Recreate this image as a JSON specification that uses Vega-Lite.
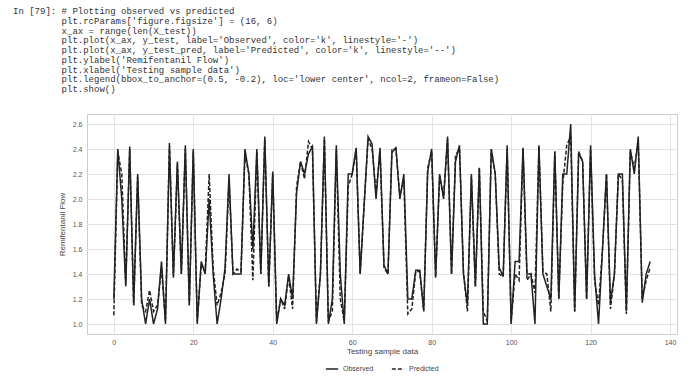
{
  "$schema": "https://vega.github.io/schema/vega-lite/v6.json",
  "autosize": {"type": "none"},
  "width": 590,
  "height": 220,
  "padding": {"left": 87, "top": 114, "right": 10, "bottom": 43},
  "background": "white",
  "title": {
    "text": [
      "In [79]: # Plotting observed vs predicted",
      "\u200b\u00a0\u00a0\u00a0\u00a0\u00a0\u00a0\u00a0\u00a0\u00a0plt.rcParams['figure.figsize'] = (16, 6)",
      "\u200b\u00a0\u00a0\u00a0\u00a0\u00a0\u00a0\u00a0\u00a0\u00a0x_ax = range(len(X_test))",
      "\u200b\u00a0\u00a0\u00a0\u00a0\u00a0\u00a0\u00a0\u00a0\u00a0plt.plot(x_ax, y_test, label='Observed', color='k', linestyle='-')",
      "\u200b\u00a0\u00a0\u00a0\u00a0\u00a0\u00a0\u00a0\u00a0\u00a0plt.plot(x_ax, y_test_pred, label='Predicted', color='k', linestyle='--')",
      "\u200b\u00a0\u00a0\u00a0\u00a0\u00a0\u00a0\u00a0\u00a0\u00a0plt.ylabel('Remifentanil Flow')",
      "\u200b\u00a0\u00a0\u00a0\u00a0\u00a0\u00a0\u00a0\u00a0\u00a0plt.xlabel('Testing sample data')",
      "\u200b\u00a0\u00a0\u00a0\u00a0\u00a0\u00a0\u00a0\u00a0\u00a0plt.legend(bbox_to_anchor=(0.5, -0.2), loc='lower center', ncol=2, frameon=False)",
      "\u200b\u00a0\u00a0\u00a0\u00a0\u00a0\u00a0\u00a0\u00a0\u00a0plt.show()"
    ],
    "anchor": "start",
    "frame": "group",
    "font": "Liberation Mono",
    "fontSize": 9,
    "fontWeight": "normal",
    "lineHeight": 9.7,
    "color": "#333333",
    "dx": -74,
    "offset": 20
  },
  "data": {
    "values": [
      {"i":0,"Observed":1.2,"Predicted":1.07},
      {"i":1,"Observed":2.4,"Predicted":2.38},
      {"i":2,"Observed":2.0,"Predicted":2.2},
      {"i":3,"Observed":1.3,"Predicted":1.32},
      {"i":4,"Observed":2.42,"Predicted":2.4},
      {"i":5,"Observed":1.15,"Predicted":1.15},
      {"i":6,"Observed":2.2,"Predicted":2.18},
      {"i":7,"Observed":1.2,"Predicted":1.15},
      {"i":8,"Observed":1.0,"Predicted":1.1},
      {"i":9,"Observed":1.2,"Predicted":1.27},
      {"i":10,"Observed":1.0,"Predicted":1.1},
      {"i":11,"Observed":1.12,"Predicted":1.15},
      {"i":12,"Observed":1.5,"Predicted":1.45},
      {"i":13,"Observed":1.0,"Predicted":1.02},
      {"i":14,"Observed":2.42,"Predicted":2.45},
      {"i":15,"Observed":1.38,"Predicted":1.37},
      {"i":16,"Observed":2.3,"Predicted":2.28},
      {"i":17,"Observed":1.4,"Predicted":1.4},
      {"i":18,"Observed":2.43,"Predicted":2.4},
      {"i":19,"Observed":1.15,"Predicted":1.15},
      {"i":20,"Observed":2.4,"Predicted":2.38},
      {"i":21,"Observed":1.0,"Predicted":1.02},
      {"i":22,"Observed":1.5,"Predicted":1.48},
      {"i":23,"Observed":1.4,"Predicted":1.42},
      {"i":24,"Observed":2.0,"Predicted":2.2},
      {"i":25,"Observed":1.4,"Predicted":1.45},
      {"i":26,"Observed":1.0,"Predicted":1.15},
      {"i":27,"Observed":1.2,"Predicted":1.25},
      {"i":28,"Observed":1.45,"Predicted":1.4},
      {"i":29,"Observed":2.2,"Predicted":2.15},
      {"i":30,"Observed":1.4,"Predicted":1.4},
      {"i":31,"Observed":1.4,"Predicted":1.44},
      {"i":32,"Observed":1.4,"Predicted":1.42},
      {"i":33,"Observed":2.4,"Predicted":2.35},
      {"i":34,"Observed":2.2,"Predicted":2.2},
      {"i":35,"Observed":1.6,"Predicted":1.35},
      {"i":36,"Observed":2.4,"Predicted":2.38},
      {"i":37,"Observed":1.4,"Predicted":1.4},
      {"i":38,"Observed":2.5,"Predicted":2.48},
      {"i":39,"Observed":1.3,"Predicted":1.3},
      {"i":40,"Observed":2.22,"Predicted":2.2},
      {"i":41,"Observed":1.0,"Predicted":1.02},
      {"i":42,"Observed":1.2,"Predicted":1.2},
      {"i":43,"Observed":1.15,"Predicted":1.12},
      {"i":44,"Observed":1.4,"Predicted":1.38},
      {"i":45,"Observed":1.2,"Predicted":1.12},
      {"i":46,"Observed":2.05,"Predicted":2.1},
      {"i":47,"Observed":2.3,"Predicted":2.3},
      {"i":48,"Observed":2.2,"Predicted":2.16},
      {"i":49,"Observed":2.36,"Predicted":2.46},
      {"i":50,"Observed":2.42,"Predicted":2.4},
      {"i":51,"Observed":1.0,"Predicted":1.02},
      {"i":52,"Observed":1.4,"Predicted":1.4},
      {"i":53,"Observed":2.5,"Predicted":2.48},
      {"i":54,"Observed":1.0,"Predicted":1.02},
      {"i":55,"Observed":1.2,"Predicted":1.1},
      {"i":56,"Observed":2.43,"Predicted":2.4},
      {"i":57,"Observed":1.4,"Predicted":1.2},
      {"i":58,"Observed":1.0,"Predicted":1.02},
      {"i":59,"Observed":2.2,"Predicted":2.1},
      {"i":60,"Observed":2.2,"Predicted":2.2},
      {"i":61,"Observed":2.41,"Predicted":2.4},
      {"i":62,"Observed":1.4,"Predicted":1.4},
      {"i":63,"Observed":1.95,"Predicted":1.95},
      {"i":64,"Observed":2.5,"Predicted":2.48},
      {"i":65,"Observed":2.44,"Predicted":2.4},
      {"i":66,"Observed":2.0,"Predicted":2.05},
      {"i":67,"Observed":2.41,"Predicted":2.38},
      {"i":68,"Observed":1.47,"Predicted":1.45},
      {"i":69,"Observed":1.4,"Predicted":1.4},
      {"i":70,"Observed":2.37,"Predicted":2.4},
      {"i":71,"Observed":2.41,"Predicted":2.4},
      {"i":72,"Observed":2.0,"Predicted":2.02},
      {"i":73,"Observed":2.2,"Predicted":2.15},
      {"i":74,"Observed":1.2,"Predicted":1.08},
      {"i":75,"Observed":1.2,"Predicted":1.12},
      {"i":76,"Observed":1.43,"Predicted":1.42},
      {"i":77,"Observed":1.43,"Predicted":1.42},
      {"i":78,"Observed":1.11,"Predicted":1.1},
      {"i":79,"Observed":2.22,"Predicted":2.25},
      {"i":80,"Observed":2.4,"Predicted":2.38},
      {"i":81,"Observed":1.37,"Predicted":1.38},
      {"i":82,"Observed":2.2,"Predicted":2.18},
      {"i":83,"Observed":2.0,"Predicted":2.02},
      {"i":84,"Observed":2.5,"Predicted":2.48},
      {"i":85,"Observed":1.4,"Predicted":1.4},
      {"i":86,"Observed":2.3,"Predicted":2.35},
      {"i":87,"Observed":2.43,"Predicted":2.4},
      {"i":88,"Observed":1.4,"Predicted":1.42},
      {"i":89,"Observed":1.15,"Predicted":1.1},
      {"i":90,"Observed":2.2,"Predicted":2.18},
      {"i":91,"Observed":1.3,"Predicted":1.3},
      {"i":92,"Observed":2.25,"Predicted":2.25},
      {"i":93,"Observed":1.0,"Predicted":1.1},
      {"i":94,"Observed":1.0,"Predicted":1.02},
      {"i":95,"Observed":2.4,"Predicted":2.4},
      {"i":96,"Observed":2.2,"Predicted":2.2},
      {"i":97,"Observed":1.45,"Predicted":1.4},
      {"i":98,"Observed":1.38,"Predicted":1.38},
      {"i":99,"Observed":2.43,"Predicted":2.4},
      {"i":100,"Observed":1.0,"Predicted":1.02},
      {"i":101,"Observed":1.5,"Predicted":1.4},
      {"i":102,"Observed":1.5,"Predicted":1.35},
      {"i":103,"Observed":2.41,"Predicted":2.4},
      {"i":104,"Observed":1.4,"Predicted":1.35},
      {"i":105,"Observed":1.4,"Predicted":1.4},
      {"i":106,"Observed":1.0,"Predicted":1.25},
      {"i":107,"Observed":2.43,"Predicted":2.42},
      {"i":108,"Observed":1.4,"Predicted":1.42},
      {"i":109,"Observed":1.3,"Predicted":1.4},
      {"i":110,"Observed":1.2,"Predicted":1.1},
      {"i":111,"Observed":2.38,"Predicted":2.38},
      {"i":112,"Observed":1.2,"Predicted":1.2},
      {"i":113,"Observed":2.2,"Predicted":2.12},
      {"i":114,"Observed":2.2,"Predicted":2.43},
      {"i":115,"Observed":2.6,"Predicted":2.5},
      {"i":116,"Observed":1.1,"Predicted":1.1},
      {"i":117,"Observed":2.37,"Predicted":2.38},
      {"i":118,"Observed":2.3,"Predicted":2.3},
      {"i":119,"Observed":1.2,"Predicted":1.2},
      {"i":120,"Observed":2.43,"Predicted":2.4},
      {"i":121,"Observed":1.4,"Predicted":1.35},
      {"i":122,"Observed":1.0,"Predicted":1.15},
      {"i":123,"Observed":1.6,"Predicted":1.6},
      {"i":124,"Observed":2.2,"Predicted":2.2},
      {"i":125,"Observed":1.17,"Predicted":1.12},
      {"i":126,"Observed":1.4,"Predicted":1.4},
      {"i":127,"Observed":2.2,"Predicted":2.2},
      {"i":128,"Observed":2.2,"Predicted":2.15},
      {"i":129,"Observed":1.1,"Predicted":1.08},
      {"i":130,"Observed":2.4,"Predicted":2.38},
      {"i":131,"Observed":2.2,"Predicted":2.25},
      {"i":132,"Observed":2.5,"Predicted":2.45},
      {"i":133,"Observed":1.17,"Predicted":1.2},
      {"i":134,"Observed":1.4,"Predicted":1.35},
      {"i":135,"Observed":1.5,"Predicted":1.45}
    ]
  },
  "transform": [{"fold": ["Observed", "Predicted"], "as": ["series", "value"]}],
  "mark": {"type": "line", "strokeWidth": 1.5, "color": "#222222", "clip": true},
  "encoding": {
    "x": {
      "field": "i", "type": "quantitative",
      "scale": {"domain": [-6.75, 141.75], "nice": false, "zero": false},
      "axis": {"values": [0, 20, 40, 60, 80, 100, 120, 140], "title": "Testing sample data", "labelPadding": 4, "titlePadding": 2}
    },
    "y": {
      "field": "value", "type": "quantitative",
      "scale": {"domain": [0.92, 2.68], "nice": false, "zero": false},
      "axis": {"values": [1.0, 1.2, 1.4, 1.6, 1.8, 2.0, 2.2, 2.4, 2.6], "format": ".1f", "title": "Remifentanil Flow", "labelPadding": 5, "titlePadding": 6}
    },
    "strokeDash": {
      "field": "series", "type": "nominal",
      "scale": {"domain": ["Observed", "Predicted"], "range": [[1, 0], [4, 2]]},
      "legend": {"title": null, "orient": "bottom", "direction": "horizontal", "symbolType": "stroke", "symbolStrokeColor": "#222222", "symbolStrokeWidth": 1.5, "symbolSize": 150, "columnPadding": 14, "offset": 7}
    },
    "detail": {"field": "series"}
  },
  "config": {
    "view": {"stroke": "#cccccc", "strokeWidth": 1},
    "axis": {
      "domain": false, "ticks": false, "grid": true, "gridColor": "#e3e3e3", "gridWidth": 1,
      "labelFont": "Liberation Sans", "labelFontSize": 7, "labelColor": "#555555",
      "titleFont": "Liberation Sans", "titleFontSize": 8, "titleFontWeight": "normal", "titleColor": "#444444"
    },
    "legend": {"labelFont": "Liberation Sans", "labelFontSize": 7, "labelColor": "#444444", "layout": {"bottom": {"anchor": "middle"}}}
  }
}
